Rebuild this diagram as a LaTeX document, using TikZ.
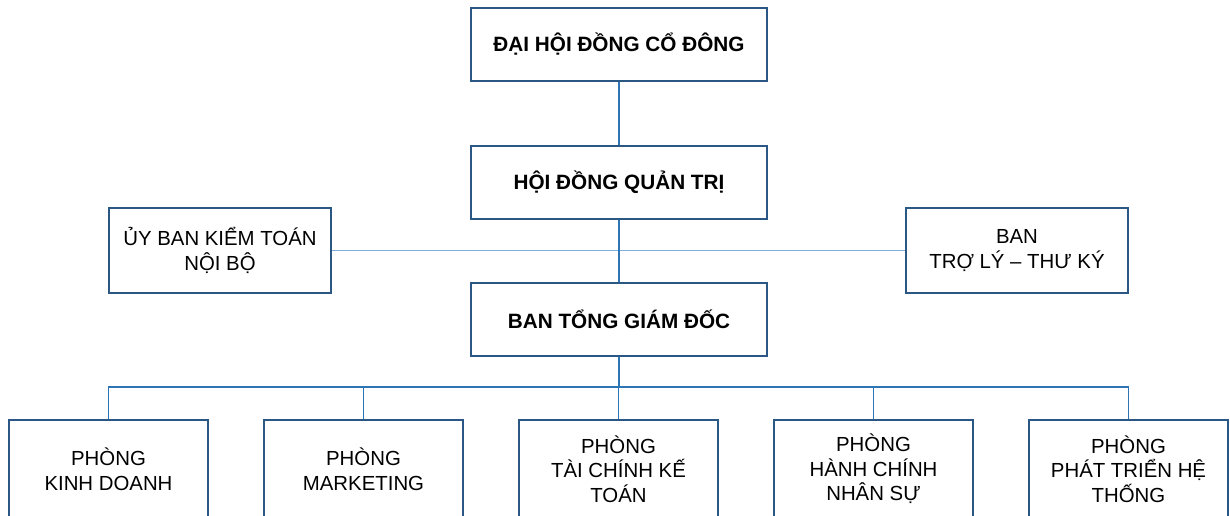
\documentclass[tikz,border=0pt]{standalone}
\usepackage{fontspec}
\setmainfont{Liberation Sans}
\definecolor{boxblue}{HTML}{2A5783}
\definecolor{linkblue}{HTML}{2E75B6}
\definecolor{lightblue}{HTML}{7FAEDC}
\tikzset{
  box/.style={draw=boxblue, line width=1.1pt, fill=white, align=center,
    inner sep=0pt, font=\fontsize{11.6}{14}\selectfont},
  headbox/.style={box, minimum width=5.92cm, minimum height=1.46cm, font=\fontsize{11.8}{14}\selectfont\bfseries},
  sidebox/.style={box, minimum width=4.44cm, minimum height=1.70cm},
  deptbox/.style={box, minimum width=3.98cm, minimum height=1.96cm},
  link/.style={draw=linkblue, line width=0.8pt},
}
\begin{document}
\begin{tikzpicture}[x=0.02cm,y=-0.02cm]
\useasboundingbox (0,0) rectangle (1230,515);
\clip (0,0) rectangle (1230,515);

\draw[draw=lightblue, line width=0.6pt] (331,250.5) -- (906,250.5);

\node[headbox] (dhdcd) at (619,44.5) {ĐẠI HỘI ĐỒNG CỔ ĐÔNG};
\node[headbox] (hdqt) at (619,182.5) {HỘI ĐỒNG QUẢN TRỊ};
\node[headbox] (btgd) at (619,319.5) {BAN TỔNG GIÁM ĐỐC};
\node[sidebox] (ubkt) at (220,250.5) {ỦY BAN KIỂM TOÁN\\NỘI BỘ};
\node[sidebox] (bantl) at (1017,250.5) {BAN\\TRỢ LÝ – THƯ KÝ};

\node[deptbox] (pkd) at (108.5,469) {PHÒNG\\KINH DOANH};
\node[deptbox] (pmk) at (363.5,469) {PHÒNG\\MARKETING};
\node[deptbox] (ptckt) at (618.5,469) {PHÒNG\\TÀI CHÍNH KẾ\\TOÁN};
\node[deptbox] (phcns) at (873.5,469) {PHÒNG\\HÀNH CHÍNH\\NHÂN SỰ};
\node[deptbox] (pptht) at (1128.5,469) {PHÒNG\\PHÁT TRIỂN HỆ\\THỐNG};

\draw[link] (dhdcd) -- (hdqt);
\draw[link] (hdqt) -- (btgd);
\coordinate (bus) at (619,387);
\draw[link] (btgd) -- (bus);
\foreach \d in {pkd,pmk,ptckt,phcns,pptht}
  \draw[link] (bus) -| (\d.north);
\end{tikzpicture}
\end{document}
